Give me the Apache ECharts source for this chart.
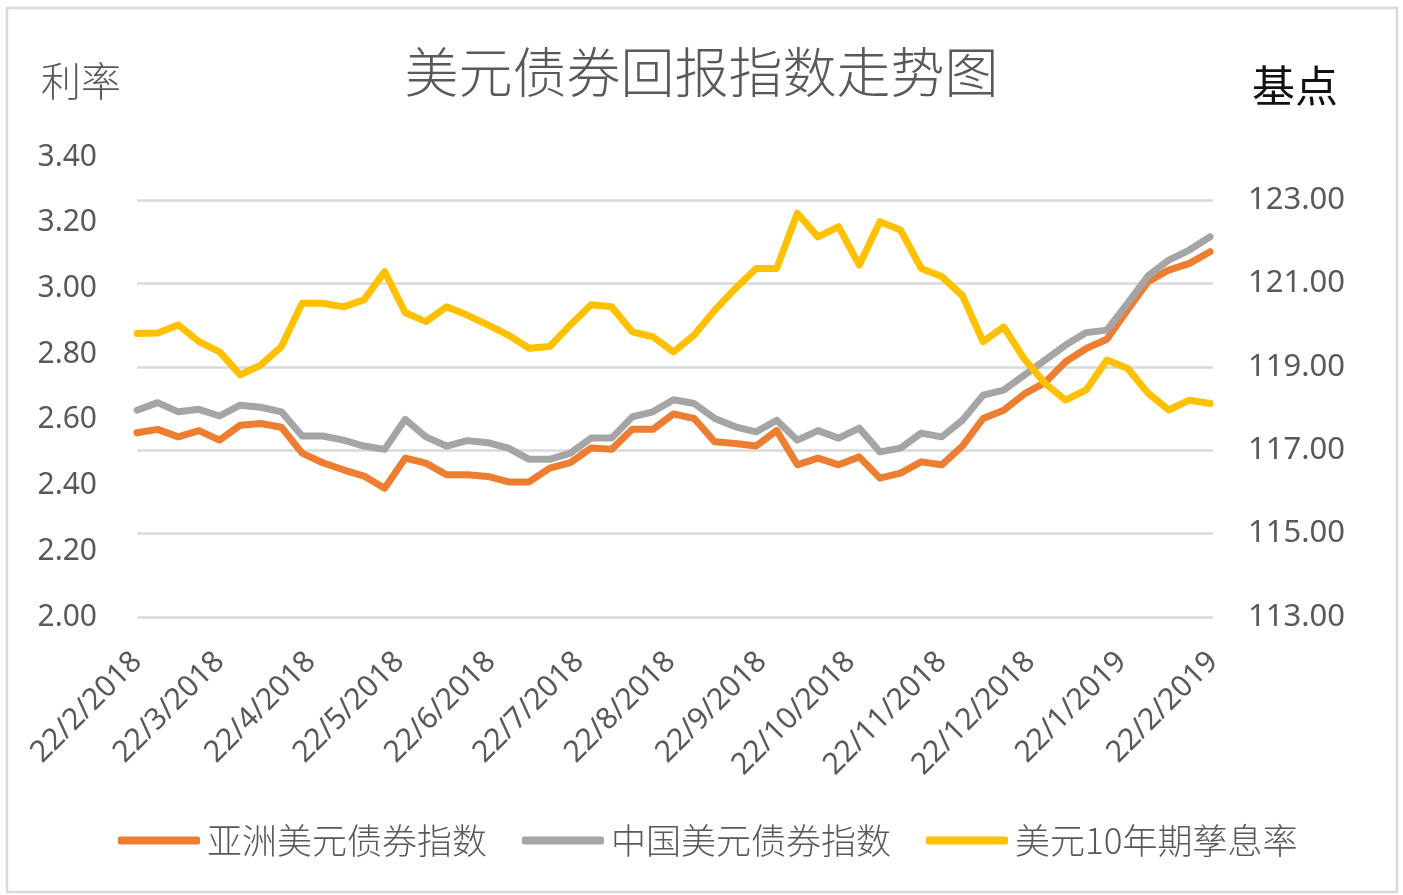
<!DOCTYPE html>
<html>
<head>
<meta charset="utf-8">
<script src="https://cdn.jsdelivr.net/npm/echarts@6/dist/echarts.min.js"></script>
<style>
html,body{margin:0;padding:0;background:#fff;}
#chart{width:1403px;height:895px;}
</style>
</head>
<body>
<div id="chart"></div>
<script>
// ---- data ----
const dates = [
  '2018-02-22','2018-03-01','2018-03-08','2018-03-15','2018-03-22','2018-03-29',
  '2018-04-05','2018-04-12','2018-04-19','2018-04-26','2018-05-03','2018-05-10',
  '2018-05-17','2018-05-24','2018-05-31','2018-06-07','2018-06-14','2018-06-21',
  '2018-06-28','2018-07-05','2018-07-12','2018-07-19','2018-07-26','2018-08-02',
  '2018-08-09','2018-08-16','2018-08-23','2018-08-30','2018-09-06','2018-09-13',
  '2018-09-20','2018-09-27','2018-10-04','2018-10-11','2018-10-18','2018-10-25',
  '2018-11-01','2018-11-08','2018-11-15','2018-11-22','2018-11-29','2018-12-06',
  '2018-12-13','2018-12-20','2018-12-27','2019-01-03','2019-01-10','2019-01-17',
  '2019-01-24','2019-01-31','2019-02-07','2019-02-14','2019-02-21'
];
// 亚洲美元债券指数 (right axis)
const asiaIndex = [
  117.42,117.50,117.32,117.47,117.24,117.60,117.64,117.55,116.93,116.70,
  116.53,116.38,116.09,116.81,116.69,116.41,116.41,116.37,116.24,116.24,
  116.57,116.70,117.05,117.02,117.50,117.50,117.87,117.76,117.20,117.16,
  117.10,117.47,116.65,116.81,116.65,116.84,116.33,116.45,116.72,116.65,
  117.10,117.76,117.96,118.35,118.62,119.12,119.44,119.66,120.36,121.04,
  121.32,121.48,121.76
];
// 中国美元债券指数 (right axis)
const chinaIndex = [
  117.96,118.14,117.92,117.98,117.82,118.08,118.03,117.92,117.34,117.34,
  117.24,117.10,117.02,117.74,117.32,117.10,117.23,117.18,117.05,116.78,
  116.78,116.93,117.29,117.29,117.80,117.92,118.21,118.12,117.76,117.56,
  117.44,117.72,117.24,117.47,117.29,117.53,116.96,117.05,117.41,117.32,
  117.72,118.32,118.44,118.80,119.16,119.52,119.82,119.88,120.52,121.18,
  121.56,121.80,122.12
];
// 美元10年期孳息率 (left axis)
const ust10y = [
  2.863,2.864,2.889,2.838,2.807,2.737,2.767,2.823,2.955,2.955,
  2.944,2.965,3.051,2.926,2.899,2.944,2.919,2.889,2.858,2.818,
  2.823,2.889,2.950,2.944,2.868,2.853,2.807,2.858,2.934,3.000,
  3.061,3.061,3.229,3.157,3.188,3.071,3.203,3.178,3.061,3.036,
  2.978,2.838,2.883,2.785,2.711,2.660,2.691,2.782,2.757,2.681,
  2.630,2.660,2.650
];
const tickLabels = [
  '22/2/2018','22/3/2018','22/4/2018','22/5/2018','22/6/2018','22/7/2018',
  '22/8/2018','22/9/2018','22/10/2018','22/11/2018','22/12/2018','22/1/2019','22/2/2019'
];
const seriesNames = ['亚洲美元债券指数','中国美元债券指数','美元10年期孳息率'];
const seriesColors = ['#ED7D31','#A5A5A5','#FFC000'];

// ---- helpers ----
function isoToTime(s){ const p=s.split('-'); return new Date(+p[0],+p[1]-1,+p[2]).getTime(); }
function dmyToTime(s){ const p=s.split('/'); return new Date(+p[2],+p[1]-1,+p[0]).getTime(); }
function fmt(t){ const d=new Date(t); return d.getDate()+'/'+(d.getMonth()+1)+'/'+d.getFullYear(); }
const pairs = arr => arr.map((v,i)=>[isoToTime(dates[i]), v]);
const tickTimes = tickLabels.map(dmyToTime);

const CJK = '"Noto Sans CJK SC","Noto Sans",sans-serif';
const NUM = '"Noto Sans","Open Sans",sans-serif';

const chart = echarts.init(document.getElementById('chart'), null, {renderer:'canvas'});
const lineBase = {type:'line', symbol:'none', smooth:false, connectNulls:true,
  lineStyle:{width:7, cap:'round', join:'round'}};

chart.setOption({
  backgroundColor:'#ffffff',
  animation:false,
  title:{
    text:'美元债券回报指数走势图', left:'center', top:40,
    textStyle:{fontFamily:CJK, fontSize:54, fontWeight:300, color:'#595959'}
  },
  legend:{
    bottom:32, left:113, itemWidth:82, itemHeight:8, itemGap:35,
    icon:'roundRect',
    data:seriesNames,
    textStyle:{fontFamily:CJK, fontSize:35, fontWeight:300, color:'#595959', padding:[0,0,0,2]}
  },
  grid:{left:137, right:190, top:157, bottom:278, containLabel:false},
  xAxis:{
    type:'value',
    min:tickTimes[0], max:tickTimes[tickTimes.length-1],
    axisLine:{show:false}, axisTick:{show:false}, splitLine:{show:false},
    axisLabel:{
      customValues:tickTimes,
      rotate:45, margin:40, padding:[30,0,0,0],
      fontFamily:NUM, fontSize:30, color:'#595959',
      formatter:function(v){ return fmt(v); },
      hideOverlap:false
    }
  },
  yAxis:[
    {
      type:'value', position:'left', min:2.0, max:3.4, interval:0.2,
      axisLine:{show:false}, axisTick:{show:false}, splitLine:{show:false},
      axisLabel:{margin:40, fontFamily:NUM, fontSize:30, color:'#595959',
        formatter:v=>v.toFixed(2)}
    },
    {
      type:'value', position:'right', min:113, max:113+10*460/417, interval:2,
      axisLine:{show:false}, axisTick:{show:false},
      splitLine:{show:true, showMaxLine:false, lineStyle:{color:'#D9D9D9', width:2.5}},
      axisLabel:{margin:35, fontFamily:NUM, fontSize:31, color:'#595959', showMaxLabel:false,
        formatter:v=>v.toFixed(2)}
    }
  ],
  graphic:[
    {type:'rect', silent:true, z:-10, shape:{x:7, y:8, width:1390, height:884},
     style:{fill:'none', stroke:'#D9D9D9', lineWidth:2.5}},
    {type:'text', left:41, top:61, style:{text:'利率', font:'300 40px "Noto Sans CJK SC"', fill:'#595959'}},
    {type:'text', left:1252, top:64, style:{text:'基点', font:'43px "Noto Sans CJK SC"', fill:'#111111'}}
  ],
  series:[
    Object.assign({}, lineBase, {name:seriesNames[0], yAxisIndex:1, data:pairs(asiaIndex),
      itemStyle:{color:seriesColors[0]}, lineStyle:Object.assign({}, lineBase.lineStyle, {color:seriesColors[0]}), z:2}),
    Object.assign({}, lineBase, {name:seriesNames[1], yAxisIndex:1, data:pairs(chinaIndex),
      itemStyle:{color:seriesColors[1]}, lineStyle:Object.assign({}, lineBase.lineStyle, {color:seriesColors[1]}), z:3}),
    Object.assign({}, lineBase, {name:seriesNames[2], yAxisIndex:0, data:pairs(ust10y),
      itemStyle:{color:seriesColors[2]}, lineStyle:Object.assign({}, lineBase.lineStyle, {color:seriesColors[2]}), z:4})
  ]
});
</script>
</body>
</html>
